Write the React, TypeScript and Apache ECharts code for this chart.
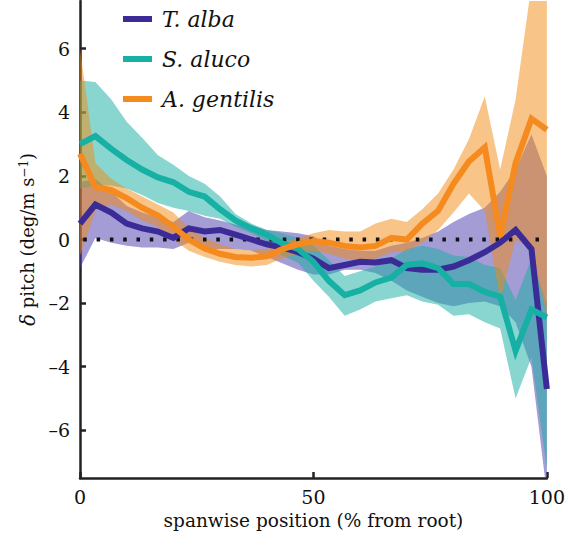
import React, { useEffect, useRef } from "react";
import * as echarts from "echarts";

const xPos = [0, 3.3, 6.7, 10, 13.3, 16.7, 20, 23.3, 26.7, 30, 33.3, 36.7, 40, 43.3, 46.7, 50, 53.3, 56.7, 60, 63.3, 66.7, 70, 73.3, 76.7, 80, 83.3, 86.7, 90, 93.3, 96.7, 100];

const albaMean = [0.5, 1.1, 0.85, 0.5, 0.35, 0.25, 0.05, 0.35, 0.25, 0.3, 0.15, 0.0, -0.15, -0.25, -0.4, -0.6, -0.9, -0.8, -0.7, -0.72, -0.65, -0.9, -0.95, -0.95, -0.85, -0.65, -0.4, -0.1, 0.3, -0.3, -4.7];
const albaUpper = [1.8, 1.9, 1.5, 1.05, 0.85, 0.7, 0.55, 0.9, 0.7, 0.6, 0.47, 0.45, 0.3, 0.25, 0.2, 0.1, -0.2, -0.3, -0.35, -0.35, -0.2, -0.1, 0.05, 0.25, 0.55, 0.8, 1.0, 1.5, 2.2, 3.3, 2.0];
const albaLower = [-0.9, 0.05, -0.1, -0.2, -0.25, -0.25, -0.3, -0.1, -0.3, -0.3, -0.3, -0.35, -0.55, -0.75, -0.95, -1.1, -1.1, -0.95, -0.95, -1.05, -1.3, -1.6, -1.8, -2.0, -2.1, -2.0, -1.95, -2.1, -2.6, -4.0, -8.0];

const alucoMean = [3.0, 3.25, 2.85, 2.5, 2.2, 1.95, 1.8, 1.5, 1.35, 0.95, 0.6, 0.35, 0.15, -0.12, -0.3, -0.7, -1.3, -1.75, -1.6, -1.35, -1.2, -0.8, -0.75, -0.9, -1.4, -1.4, -1.65, -1.8, -3.5, -2.2, -2.45];
const alucoUpper = [5.0, 4.95, 4.4, 3.7, 3.2, 2.65, 2.35, 2.0, 1.75, 1.35, 0.8, 0.5, 0.3, 0.2, 0.05, -0.2, -0.65, -1.15, -1.0, -0.85, -0.6, -0.3, -0.2, -0.3, -0.5, -0.55, -0.8, -0.9, -1.9, -0.6, -2.0];
const alucoLower = [1.6, 1.7, 1.7, 1.6, 1.4, 1.15, 1.0, 0.9, 0.75, 0.65, 0.4, 0.2, -0.05, -0.5, -0.73, -1.3, -1.8, -2.4, -2.2, -1.95, -1.85, -1.75, -1.95, -2.05, -2.4, -2.35, -2.6, -2.8, -5.0, -3.7, -7.2];

const gentilisMean = [2.7, 1.65, 1.55, 1.3, 1.0, 0.75, 0.4, 0.0, -0.28, -0.45, -0.55, -0.57, -0.53, -0.3, -0.15, -0.05, -0.1, -0.2, -0.25, -0.2, 0.05, 0.0, 0.5, 0.9, 1.75, 2.45, 2.9, 0.1, 2.4, 3.8, 3.45];
const gentilisUpper = [6.0, 2.4, 1.9, 1.6, 1.35, 1.1, 0.85, 0.35, 0.05, -0.15, -0.3, -0.35, -0.3, -0.1, 0.05, 0.2, 0.3, 0.25, 0.25, 0.5, 0.65, 0.55, 0.95, 1.45, 2.2, 3.15, 4.5, 2.2, 4.4, 8.0, 8.0];
const gentilisLower = [-0.5, 0.9, 1.1, 0.9, 0.6, 0.4, 0.0, -0.35, -0.55, -0.7, -0.8, -0.85, -0.8, -0.6, -0.45, -0.35, -0.45, -0.6, -0.7, -0.6, -0.4, -0.35, -0.1, 0.3, 0.85, 1.45, 0.9, -1.9, 0.0, -0.3, -2.4];

const yTicks = [-6, -4, -2, 0, 2, 4, 6];
const xTicks = [0, 50, 100];

const FONT = "DejaVu Serif";

const species = [
  { name: "T. alba", mean: albaMean, upper: albaUpper, lower: albaLower, line: "#3a2b96", band: "#4a3aac" },
  { name: "S. aluco", mean: alucoMean, upper: alucoUpper, lower: alucoLower, line: "#17b0a4", band: "#14ada2" },
  { name: "A. gentilis", mean: gentilisMean, upper: gentilisUpper, lower: gentilisLower, line: "#f58a1f", band: "#f28a10" },
];

function pairs(vals: number[]) {
  return vals.map((v, i) => [xPos[i], v]);
}

export default function App() {
  const ref = useRef<HTMLDivElement>(null);
  useEffect(() => {
    if (!ref.current) return;
    const chart = echarts.init(ref.current, null, { renderer: "svg" });
    const series: any[] = [
      {
        name: "zero",
        type: "line",
        data: [[0, 0], [100, 0]],
        symbol: "none",
        lineStyle: { color: "#111", width: 4, type: [3.5, 9.8], dashOffset: 10 },
        silent: true,
      },
    ];
    species.forEach((s) => {
      series.push({
        name: s.name + " band",
        type: "custom",
        clip: true,
        silent: true,
        data: xPos.map((x, i) => [x, s.lower[i], s.upper[i]]),
        encode: { x: 0, y: [1, 2] },
        renderItem: (params: any, api: any) => {
          if (params.dataIndex !== 0) return null;
          const top = s.upper.map((u, i) => api.coord([xPos[i], u]));
          const bot = s.lower.map((l, i) => api.coord([xPos[i], l])).reverse();
          return {
            type: "polygon",
            shape: { points: top.concat(bot) },
            style: { fill: s.band, opacity: 0.5 },
          };
        },
      });
      series.push({
        name: s.name,
        type: "line",
        data: pairs(s.mean),
        symbol: "none",
        color: s.line,
        lineStyle: { color: s.line, width: 6, join: "miter" },
      });
    });
    chart.setOption({
      animation: false,
      grid: { left: 80, right: 15, top: 1, bottom: 69, containLabel: false },
      legend: {
        data: species.map((s) => s.name),
        orient: "vertical",
        left: 118,
        top: 1,
        itemWidth: 29,
        itemHeight: 6,
        itemGap: 14,
        icon: "rect",
        textStyle: {
          fontFamily: FONT,
          fontStyle: "italic",
          fontSize: 22,
          color: "#111",
          lineHeight: 26,
          padding: [0, 0, 0, 5],
        },
      },
      xAxis: {
        type: "value",
        min: 0,
        max: 100,
        interval: 50,
        name: "spanwise position (% from root)",
        nameLocation: "middle",
        nameGap: 31,
        nameTextStyle: { fontFamily: FONT, fontSize: 18.5, color: "#111" },
        axisLine: { show: true, onZero: false, lineStyle: { color: "#222", width: 2.5 } },
        axisTick: { show: true, inside: true, length: 6, lineStyle: { color: "#222", width: 2.5 }, customValues: xTicks },
        axisLabel: { fontFamily: FONT, fontSize: 19, color: "#111", margin: 9, customValues: xTicks },
        splitLine: { show: false },
      },
      yAxis: {
        type: "value",
        min: -7.5,
        max: 7.5,
        name: "{i|δ} pitch (deg/m s{s|−1})",
        nameLocation: "middle",
        nameGap: 40,
        nameRotate: 90,
        nameTextStyle: {
          fontFamily: FONT,
          fontSize: 18,
          color: "#111",
          rich: {
            i: { fontFamily: FONT, fontSize: 20, fontStyle: "italic", color: "#111" },
            s: { fontFamily: FONT, fontSize: 12, color: "#111", verticalAlign: "top", padding: [0, 0, 7, 0] },
          },
        },
        axisLine: { show: true, onZero: false, lineStyle: { color: "#222", width: 2.5 } },
        axisTick: { show: true, inside: true, length: 6, lineStyle: { color: "#222", width: 2.5 }, customValues: yTicks },
        axisLabel: {
          fontFamily: FONT,
          fontSize: 19,
          color: "#111",
          margin: 10,
          customValues: yTicks,
          formatter: (v: number) => (v < 0 ? "\u2013" + Math.abs(v) : String(v)),
        },
        splitLine: { show: false },
      },
      series,
    });
    return () => chart.dispose();
  }, []);
  return <div ref={ref} style={{ width: 568, height: 547, position: "absolute", left: 0, top: 0 }} />;
}
